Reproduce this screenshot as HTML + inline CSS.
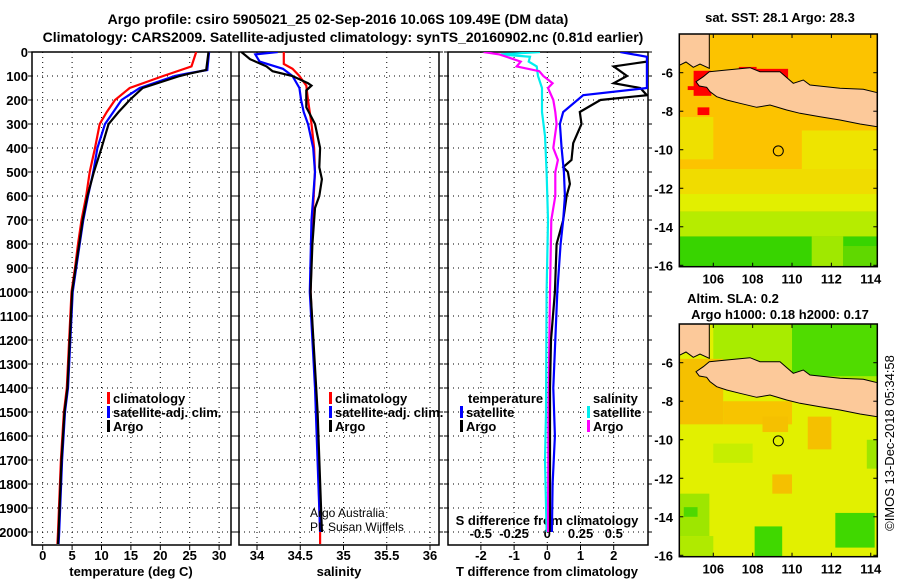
<!DOCTYPE html>
<html><head><meta charset="utf-8"><style>
html,body{margin:0;padding:0;background:#fff}
svg{display:block;font-family:"Liberation Sans",sans-serif;font-weight:bold}
</style></head><body>
<svg id="c" width="900" height="580" viewBox="0 0 900 580">
<text x="338" y="24" font-size="14" text-anchor="middle">Argo profile: csiro 5905021_25 02-Sep-2016 10.06S 109.49E (DM data)</text>
<text x="343" y="42" font-size="14" text-anchor="middle">Climatology: CARS2009. Satellite-adjusted climatology: synTS_20160902.nc (0.81d earlier)</text>
<g id="g"></g>
</svg>
<script>
// ---- data ----
const depthTicks=[0,100,200,300,400,500,600,700,800,900,1000,1100,1200,1300,1400,1500,1600,1700,1800,1900,2000];
const tempTicks=[0,5,10,15,20,25,30];
const salTicks=[34,34.5,35,35.5,36];
const tdiffTicks=[-2,-1,0,1,2];
const sdiffTicks=[-0.5,-0.25,0,0.25,0.5];
const sdiffLabels=["-0.5","-0.25","0","0.25","0.5"];
const tClimD=[0,60,100,150,200,250,300,400,500,600,700,800,900,1000,1400,1500,1700,2000,2050];
const tClimV=[26.1,25.3,20.5,14.8,12.3,10.9,9.7,8.9,8.0,7.4,6.6,6.0,5.5,4.9,4.1,3.6,3.1,2.6,2.5];
const tSatD=[0,75,90,100,150,200,250,300,400,500,600,700,800,900,1000,1400,1500,1700,2000,2050];
const tSatV=[28.3,28.0,24.5,22.5,16.5,13.4,12.0,10.6,9.3,8.6,7.7,6.9,6.3,5.7,5.1,4.3,3.8,3.3,2.8,2.7];
const tArgoD=[0,75,90,100,150,200,250,300,400,500,600,700,800,900,1000,1400,1500,1700,2000,2050];
const tArgoV=[28.2,27.8,25.0,23.3,17.0,14.8,12.9,11.2,10.0,8.7,7.6,6.8,6.2,5.6,5.0,4.2,3.7,3.2,2.7,2.6];
const sClimD=[0,50,70,100,140,200,300,400,500,700,1000,1500,2000,2050];
const sClimV=[34.31,34.31,34.41,34.49,34.57,34.59,34.63,34.66,34.67,34.64,34.62,34.69,34.73,34.73];
const sSatD=[0,10,40,70,100,150,200,250,300,400,500,700,1000,1400,2000];
const sSatV=[34.24,33.98,34.03,34.30,34.41,34.49,34.51,34.54,34.59,34.65,34.67,34.63,34.61,34.67,34.73];
const sArgoD=[0,30,60,80,100,130,140,160,230,300,400,480,530,600,650,800,1000,1500,2000];
const sArgoV=[33.82,33.92,34.11,34.18,34.41,34.59,34.63,34.57,34.57,34.67,34.73,34.72,34.75,34.72,34.67,34.64,34.62,34.70,34.75];
const dtSatD=[0,20,50,150,180,250,300,400,500,600,700,800,1000,1400,1600,1800,2000];
const dtSatV=[2.2,3.0,3.0,3.0,1.08,0.48,0.38,0.43,0.5,0.53,0.48,0.4,0.3,0.18,0.23,0.16,0.14];
const dtArgoD=[40,60,100,130,150,180,200,250,300,380,450,480,500,550,600,700,800,1000,1200,1400,2000];
const dtArgoV=[3.0,2.0,2.4,2.0,2.8,3.0,1.6,0.98,1.03,0.78,0.73,0.48,0.62,0.68,0.58,0.48,0.28,0.23,0.11,0.08,0.08];
const dsSatD=[0,10,20,40,60,100,150,250,350,500,700,1000,1500,1700,2000];
const dsSatV=[-0.055,-0.35,-0.13,-0.14,-0.08,-0.07,-0.04,-0.04,-0.017,-0.005,0.005,-0.005,-0.01,-0.017,-0.005];
const dsArgoD=[0,10,40,60,80,100,130,150,200,250,300,400,450,500,600,700,1000,1500,2000];
const dsArgoV=[-0.48,-0.36,-0.2,-0.23,-0.06,-0.03,0.04,0.005,0.045,0.06,0.07,0.045,0.08,0.06,0.06,0.03,0.02,0.008,0.005];
const lonTicks=[106,108,110,112,114];
const latTicks=[-6,-8,-10,-12,-14,-16];

const NS='http://www.w3.org/2000/svg';
const G=document.getElementById('g');
function mk(t,a,p){const e=document.createElementNS(NS,t);for(const k in a)e.setAttribute(k,a[k]);(p||G).appendChild(e);return e;}
const TOP=52,BOT=545;
const yD=d=>TOP+d*0.24;
const panels=[
 {l:32,r:231,x:v=>42.7+v*5.88},
 {l:239,r:439,x:v=>257+(v-34)*86.5},
 {l:448,r:648,x:v=>547.3+v*33.2}
];
const xS=v=>547.3+v*133;
const defs=mk('defs',{});
panels.forEach((p,i)=>{const cp=mk('clipPath',{id:'cp'+i},defs);mk('rect',{x:p.l,y:TOP,width:p.r-p.l,height:BOT-TOP},cp);});
panels.forEach((p,i)=>{
 const ticks=i==0?tempTicks:i==1?salTicks:tdiffTicks;
 depthTicks.forEach(d=>{const l=mk('line',{x1:p.l,x2:p.r,y1:yD(d),y2:yD(d),stroke:'#000','stroke-width':1,'stroke-dasharray':'1 4'});
  });
 ticks.forEach(v=>{const l=mk('line',{x1:p.x(v),x2:p.x(v),y1:TOP,y2:BOT,stroke:'#000','stroke-width':1,'stroke-dasharray':'1 4'});
  
  const t=mk('line',{x1:p.x(v),x2:p.x(v),y1:BOT,y2:BOT+5,stroke:'#000'});
  });
 depthTicks.forEach(d=>{mk('line',{x1:p.l-4,x2:p.l,y1:yD(d),y2:yD(d),stroke:'#000'});mk('line',{x1:p.r,x2:p.r+4,y1:yD(d),y2:yD(d),stroke:'#000'});});
 const fr=mk('rect',{x:p.l,y:TOP,width:p.r-p.l,height:BOT-TOP,fill:'none',stroke:'#000','stroke-width':1.5});
 
});
depthTicks.forEach(d=>{const t=mk('text',{x:28,y:yD(d)+5,'font-size':13,'text-anchor':'end'});t.textContent=d;
 });
function xlab(arr,p){arr.forEach(v=>{const t=mk('text',{x:p.x(v),y:560,'font-size':13,'text-anchor':'middle'});t.textContent=v;
 });}
xlab(tempTicks,panels[0]);xlab(salTicks,panels[1]);xlab(tdiffTicks,panels[2]);
sdiffTicks.forEach((v,k)=>{const t=mk('text',{x:xS(v),y:538,'font-size':13,'text-anchor':'middle'});t.textContent=sdiffLabels[k];
 });
[['temperature (deg C)',131,'temperature-axis-title'],['salinity',339,'salinity-axis-title'],['T difference from climatology',547,'t-diff-axis-title']].forEach(a=>{
 const t=mk('text',{x:a[1],y:576,'font-size':13,'text-anchor':'middle'});t.textContent=a[0];});
{const t=mk('text',{x:547,y:525,'font-size':13,'text-anchor':'middle'});t.textContent='S difference from climatology';}
function line(D,V,xf,col,pi,name){const pts=D.map((d,k)=>xf(V[k]).toFixed(1)+','+yD(d).toFixed(1)).join(' ');
 const l=mk('polyline',{points:pts,fill:'none',stroke:col,'stroke-width':2.2,'clip-path':'url(#cp'+pi+')'});
 }
line(tClimD,tClimV,panels[0].x,'#f00',0,'temp-climatology-line');
line(tSatD,tSatV,panels[0].x,'#00f',0,'temp-satellite-line');
line(tArgoD,tArgoV,panels[0].x,'#000',0,'temp-argo-line');
line(sClimD,sClimV,panels[1].x,'#f00',1,'sal-climatology-line');
line(sSatD,sSatV,panels[1].x,'#00f',1,'sal-satellite-line');
line(sArgoD,sArgoV,panels[1].x,'#000',1,'sal-argo-line');
line(dsSatD,dsSatV,xS,'#0ee',2,'sdiff-satellite-line');
line(dsArgoD,dsArgoV,xS,'#f0f',2,'sdiff-argo-line');
line(dtArgoD,dtArgoV,panels[2].x,'#000',2,'tdiff-argo-line');
line(dtSatD,dtSatV,panels[2].x,'#00f',2,'tdiff-satellite-line');
function leg(x,y,col,txt,name){const b=mk('rect',{x:x,y:y-11,width:3,height:12,fill:col});
 if(txt){const t=mk('text',{x:x+6,y:y,'font-size':13});t.textContent=txt;}}
[[107,'#f00','climatology'],[107,'#00f','satellite-adj. clim.'],[107,'#000','Argo']].forEach((a,k)=>leg(a[0],403+k*14,a[1],a[2],'legend-temp-'+k));
[[329,'#f00','climatology'],[329,'#00f','satellite-adj. clim.'],[329,'#000','Argo']].forEach((a,k)=>leg(a[0],403+k*14,a[1],a[2],'legend-sal-'+k));
{let t=mk('text',{x:468,y:403,'font-size':13});t.textContent='temperature';
 t=mk('text',{x:593,y:403,'font-size':13});t.textContent='salinity';}
leg(460,417,'#00f','satellite','legend-tdiff-sat');leg(460,431,'#000','Argo','legend-tdiff-argo');
leg(587,417,'#0ee','satellite','legend-sdiff-sat');leg(587,431,'#f0f','Argo','legend-sdiff-argo');
{let t=mk('text',{x:310,y:517,'font-size':12,'font-weight':'normal'});t.textContent='Argo Australia';
 t=mk('text',{x:310,y:531,'font-size':12,'font-weight':'normal'});t.textContent='PI: Susan Wijffels';}

// ---- maps ----
const ML=679.3,MR=877.3;
const lonX=l=>713.3+(l-106)*19.68;
function latY(top,la){return top+38.7+(-6-la)*19.26;}
const sumatra=[[58,102],[148,102],[148,205],[120,192],[100,202],[78,186],[58,196]];
const java=[[148,215],[200,210],[270,203],[300,215],[360,215],[400,250],[430,240],[450,255],[540,265],[610,268],[652,278],[652,380],[600,372],[540,360],[480,350],[420,340],[380,330],[330,315],[290,322],[240,310],[200,300],[170,290],[150,275],[140,262],[118,258],[108,245],[130,230]];
function poly(arr,off){return arr.map(p=>(660+p[0]/3).toFixed(1)+','+(off+p[1]/3).toFixed(1)).join(' ');}
function map(top,off,idx,blocks){
 const H=232.7,W=MR-ML;
 const cp=mk('clipPath',{id:'mc'+idx},defs);mk('rect',{x:ML,y:top,width:W,height:H},cp);
 const g=mk('g',{'clip-path':'url(#mc'+idx+')'});
 
 blocks.forEach(b=>{const r=mk('rect',{x:lonX(b[0]),y:latY(top,b[1]),width:lonX(b[2])-lonX(b[0]),height:latY(top,b[3])-latY(top,b[1]),fill:b[4]},g);
  });
 [sumatra,java].forEach((pp,k)=>{const p=mk('polygon',{points:poly(pp,off),fill:'#fcc99a',stroke:'#000','stroke-width':1},g);
  });
 const c=mk('circle',{cx:778.3,cy:latY(top,-10.06),r:5,fill:'none',stroke:'#000','stroke-width':1},g);
 
 const fr=mk('rect',{x:ML,y:top,width:W,height:H,fill:'none',stroke:'#000','stroke-width':1.5});
 
 latTicks.forEach(la=>{const y=latY(top,la);mk('line',{x1:ML,x2:ML+4,y1:y,y2:y,stroke:'#000'});mk('line',{x1:MR-4,x2:MR,y1:y,y2:y,stroke:'#000'});
  const t=mk('text',{x:673,y:y+5,'font-size':13,'text-anchor':'end'});t.textContent=la;});
 lonTicks.forEach(lo=>{const x=lonX(lo);mk('line',{x1:x,x2:x,y1:top+H,y2:top+H-4,stroke:'#000'});mk('line',{x1:x,x2:x,y1:top,y2:top+4,stroke:'#000'});
  const t=mk('text',{x:x,y:top+H+17,'font-size':13,'text-anchor':'middle'});t.textContent=lo;});
}
const sstBlocks=[[104,-3,115,-17,'#fcc300'],[104,-8.3,106,-10.5,'#eee000'],[110.5,-9,115,-11,'#eee400'],[104,-11,115,-12.3,'#f0dc00'],
 [104,-12.3,115,-13.2,'#e2ef00'],[104,-13.2,115,-14.5,'#b6ec00'],[104,-14.5,115,-17,'#38d400'],[111,-14.5,112.6,-17,'#a0e800'],[112.6,-15,115,-17,'#60d800'],
 [105,-5.9,105.9,-7.2,'#f00'],[108.2,-5.8,109.8,-6.6,'#f00'],[107.3,-5.7,108.2,-6.1,'#f00'],[105.2,-7.8,105.8,-8.2,'#f00'],[104.7,-6.7,105.2,-6.9,'#f00']];
const slaBlocks=[[104,-3,115,-17,'#e2f000'],[106,-3,115,-7,'#a8ec00'],[110,-3,115,-6.7,'#50dc00'],[104,-5.8,106.5,-9.2,'#f5c000'],[106.5,-8,110,-9.2,'#f7c400'],
 [108.5,-8.8,109.8,-9.6,'#f5c000'],[110.8,-8.8,112,-10.5,'#f5c000'],[109,-11.8,110,-12.8,'#f5c000'],[104,-12.8,105.8,-15,'#9ee600'],[104.5,-13.5,105.2,-14,'#4ed800'],
 [108.1,-14.5,109.5,-17,'#40d800'],[112.2,-13.8,114.2,-15.6,'#40d800'],[113.8,-10,115,-11.5,'#9ee600'],[106,-10.2,108,-11.2,'#c6ee00'],[104,-15,106,-17,'#b0ea00']];
map(34,0,1,sstBlocks);
map(324,290,2,slaBlocks);
{const a=[['sat. SST: 28.1 Argo: 28.3',780,22,'sst-map-title'],['Altim. SLA: 0.2',733,303,'sla-map-title'],['Argo h1000: 0.18 h2000: 0.17',780,319,'sla-map-subtitle']];
 a.forEach(s=>{const t=mk('text',{x:s[1],y:s[2],'font-size':13,'text-anchor':'middle'});t.textContent=s[0];});
 const t=mk('text',{x:0,y:0,'font-size':13,'font-weight':'normal','text-anchor':'middle',transform:'translate(894,443) rotate(-90)'});t.textContent='©IMOS 13-Dec-2018 05:34:58';
 }
</script>
</body></html>
